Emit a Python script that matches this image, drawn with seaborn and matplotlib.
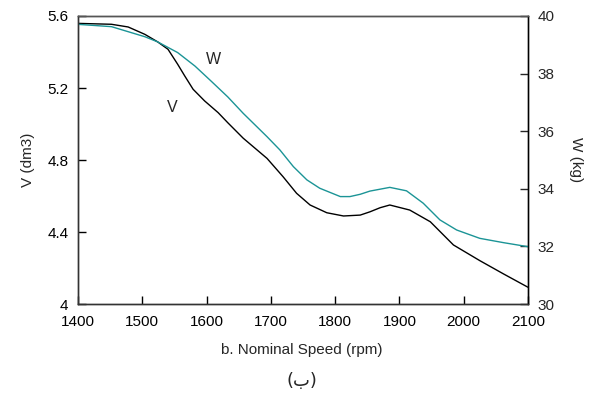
import numpy as np
import pandas as pd
import matplotlib
matplotlib.use("Agg")
import matplotlib.pyplot as plt
import seaborn as sns

# values
speed_v = [1400, 1452, 1478, 1504, 1524, 1540, 1555, 1566, 1579, 1597, 1618, 1633, 1657,
           1694, 1719, 1740, 1761, 1787, 1813, 1839, 1854, 1870, 1885, 1916, 1948, 1984,
           2025, 2062, 2100]
volume = [5.559, 5.554, 5.539, 5.498, 5.456, 5.415, 5.332, 5.267, 5.193, 5.128, 5.063,
          5.007, 4.921, 4.809, 4.707, 4.615, 4.55, 4.507, 4.489, 4.494, 4.512, 4.535, 4.55,
          4.522, 4.457, 4.328, 4.241, 4.167, 4.093]

speed_w = [1400, 1452, 1504, 1524, 1555, 1582, 1607, 1633, 1657, 1694, 1714, 1735, 1756,
           1776, 1808, 1823, 1839, 1854, 1885, 1911, 1937, 1963, 1989, 2025, 2062, 2100]
weight = [39.71, 39.63, 39.28, 39.10, 38.73, 38.26, 37.74, 37.19, 36.62, 35.81, 35.35,
          34.77, 34.31, 34.02, 33.73, 33.73, 33.81, 33.92, 34.05, 33.93, 33.50, 32.92,
          32.57, 32.28, 32.13, 31.99]

x_ticks = [1400, 1500, 1600, 1700, 1800, 1900, 2000, 2100]
v_ticks = [4.0, 4.4, 4.8, 5.2, 5.6]
v_labels = ["4", "4.4", "4.8", "5.2", "5.6"]
w_ticks = [30, 32, 34, 36, 38, 40]

sns.set_theme(style="ticks")
plt.rcParams["font.family"] = ["Liberation Sans", "DejaVu Sans"]

df_v = pd.DataFrame({"speed": speed_v, "V": volume})
df_w = pd.DataFrame({"speed": speed_w, "W": weight})

fig = plt.figure(figsize=(5.92, 3.96), dpi=100)
ax = fig.add_axes([0.1318, 0.2323, 0.7601, 0.7273])
ax2 = ax.twinx()

sns.lineplot(data=df_v, x="speed", y="V", ax=ax, color="black", linewidth=1.0)
sns.lineplot(data=df_w, x="speed", y="W", ax=ax2, color="#1b9496", linewidth=1.0)

ax.set_xlim(1400, 2100)
ax.set_ylim(4.0, 5.6)
ax2.set_ylim(30, 40)
ax.set_xticks(x_ticks)
ax.set_yticks(v_ticks)
ax.set_yticklabels(v_labels)
ax2.set_yticks(w_ticks)

ax.tick_params(axis="both", direction="in", length=6, width=1, labelsize=11, colors="black")
ax.tick_params(axis="y", pad=7)
ax.tick_params(axis="x", pad=8)
ax2.tick_params(axis="y", direction="in", length=6, width=1, labelsize=11, pad=7)

for a in (ax, ax2):
    for s in a.spines.values():
        s.set_visible(True)
        s.set_linewidth(1.0)
        s.set_color("#333333")
ax2.spines["right"].set_color("black")
ax2.spines["top"].set_color("#555555")

ax.set_xlabel("")
ax.set_ylabel("V (dm3)", fontsize=11, labelpad=9)
ax2.set_ylabel("W (kg)", fontsize=11, rotation=270, labelpad=20)

ax.text(1610, 5.356, "W", fontsize=11.5, ha="center", va="center")
ax.text(1546, 5.094, "V", fontsize=11.5, ha="center", va="center")

fig.text(0.5101, 1 - 350 / 396, "b. Nominal Speed (rpm)", fontsize=11, ha="center", va="center")
fig.text(0.5101, 1 - 381 / 396, "(ب)", fontsize=13, ha="center", va="center",
         family=["DejaVu Sans"])

fig.savefig("out.png", dpi=100)
